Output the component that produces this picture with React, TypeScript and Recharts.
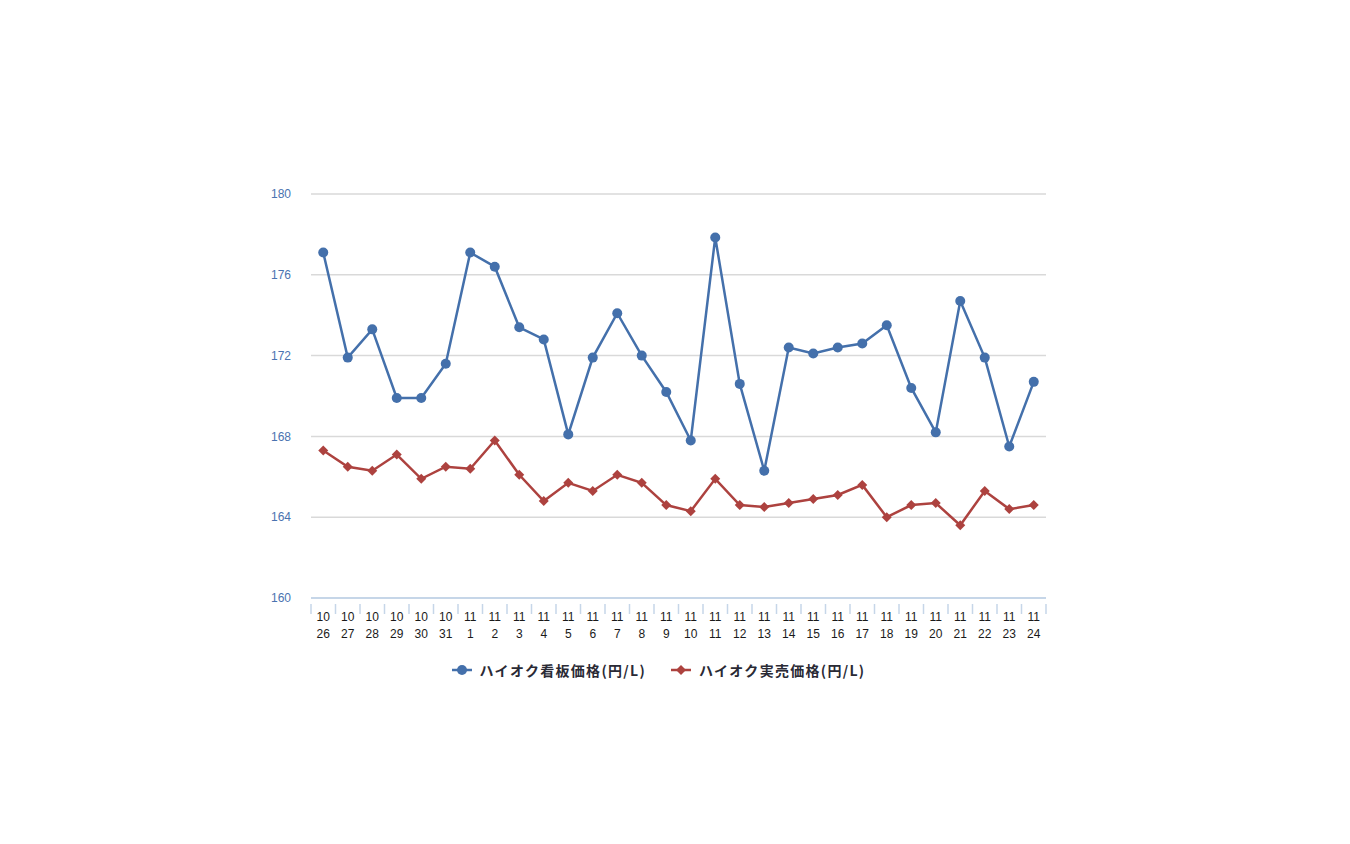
import React from 'react';
import { LineChart, Line, XAxis, YAxis, CartesianGrid, Legend } from 'recharts';

// dates: month / day
const months = ['10','10','10','10','10','10','11','11','11','11','11','11','11','11','11','11','11','11','11','11','11','11','11','11','11','11','11','11','11','11'];
const days = ['26','27','28','29','30','31','1','2','3','4','5','6','7','8','9','10','11','12','13','14','15','16','17','18','19','20','21','22','23','24'];

// ハイオク看板価格
const signPrice = [177.1, 171.9, 173.3, 169.9, 169.9, 171.6, 177.1, 176.4, 173.4, 172.8, 168.1, 171.9, 174.1, 172.0, 170.2, 167.8, 177.85, 170.6, 166.3, 172.4, 172.1, 172.4, 172.6, 173.5, 170.4, 168.2, 174.7, 171.9, 167.5, 170.7];
// ハイオク実売価格
const salePrice = [167.3, 166.5, 166.3, 167.1, 165.9, 166.5, 166.4, 167.8, 166.1, 164.8, 165.7, 165.3, 166.1, 165.7, 164.6, 164.3, 165.9, 164.6, 164.5, 164.7, 164.9, 165.1, 165.6, 164.0, 164.6, 164.7, 163.6, 165.3, 164.4, 164.6];

const yTicks = [160, 164, 168, 172, 176, 180];

const BLUE = '#4470ab';
const RED = '#ad423f';
const SIGN_NAME = 'ハイオク看板価格(円/L)';
const SALE_NAME = 'ハイオク実売価格(円/L)';

const data = days.map((d, i) => ({
  key: `${months[i]}-${d}`,
  sign: signPrice[i],
  sale: salePrice[i],
}));

const BAND = 735 / 30;

const DateTick = (props: any) => {
  const { x, y, index } = props;
  const last = index === days.length - 1;
  const top = y - 2;
  return (
    <g>
      <line x1={x - BAND / 2} y1={top} x2={x - BAND / 2} y2={top + 10} stroke="#c6d6e8" strokeWidth={1.5} />
      {last && <line x1={x + BAND / 2} y1={top} x2={x + BAND / 2} y2={top + 10} stroke="#c6d6e8" strokeWidth={1.5} />}
      <text x={x} y={y + 15} textAnchor="middle" fontSize={12} fill="#1a1a1a" fontFamily="Liberation Sans, Arial, sans-serif">
        {months[index]}
      </text>
      <text x={x} y={y + 32} textAnchor="middle" fontSize={12} fill="#1a1a1a" fontFamily="Liberation Sans, Arial, sans-serif">
        {days[index]}
      </text>
    </g>
  );
};

const Diamond = (props: any) => {
  const { cx, cy, index } = props;
  const s = 5;
  return (
    <polygon key={`d-${index}`} points={`${cx},${cy - s} ${cx + s},${cy} ${cx},${cy + s} ${cx - s},${cy}`} fill={RED} />
  );
};

const renderLegend = () => (
  <div style={{ display: 'flex', justifyContent: 'center', alignItems: 'center', paddingRight: 34, fontFamily: '"Noto Sans CJK JP", sans-serif', fontWeight: 700, fontSize: 14, letterSpacing: 1.3, color: '#2a2a35', height: 20 }}>
    <svg width={22} height={12} style={{ marginRight: 7 }}>
      <line x1={1} y1={6} x2={21} y2={6} stroke={BLUE} strokeWidth={2.5} />
      <circle cx={11} cy={6} r={5} fill={BLUE} />
    </svg>
    <span style={{ marginRight: 24 }}>{SIGN_NAME}</span>
    <svg width={22} height={12} style={{ marginRight: 7 }}>
      <line x1={1} y1={6} x2={21} y2={6} stroke={RED} strokeWidth={2.5} />
      <polygon points="11,1 16,6 11,11 6,6" fill={RED} />
    </svg>
    <span>{SALE_NAME}</span>
  </div>
);

export default function App() {
  return (
    <div style={{ position: 'absolute', left: 0, top: 0, width: 1350, height: 844, background: '#fff' }}>
      <LineChart width={1350} height={844} data={data} margin={{ top: 194, right: 304, bottom: 176, left: 0 }}>
        <CartesianGrid horizontal vertical={false} stroke="#d9d9d9" strokeWidth={1.5} />
        <XAxis
          dataKey="key"
          axisLine={{ stroke: '#c6d6e8', strokeWidth: 2 }}
          tickLine={false}
          tick={<DateTick />}
          interval={0}
          height={50}
          padding={{ left: BAND / 2, right: BAND / 2 }}
        />
        <YAxis
          domain={[160, 180]}
          ticks={yTicks}
          axisLine={false}
          tickLine={false}
          width={311}
          tickMargin={14}
          tick={{ fontSize: 12, fill: '#4a73b0', fontFamily: 'Liberation Sans, Arial, sans-serif' }}
        />
        <Legend content={renderLegend} height={20} wrapperStyle={{ top: 660, left: 0, width: 1350 }} />
        <Line
          type="linear"
          dataKey="sign"
          name={SIGN_NAME}
          stroke={BLUE}
          strokeWidth={2.5}
          dot={{ r: 5, fill: BLUE, stroke: BLUE, strokeWidth: 0 }}
          isAnimationActive={false}
        />
        <Line
          type="linear"
          dataKey="sale"
          name={SALE_NAME}
          stroke={RED}
          strokeWidth={2.5}
          dot={<Diamond />}
          isAnimationActive={false}
        />
      </LineChart>
    </div>
  );
}
